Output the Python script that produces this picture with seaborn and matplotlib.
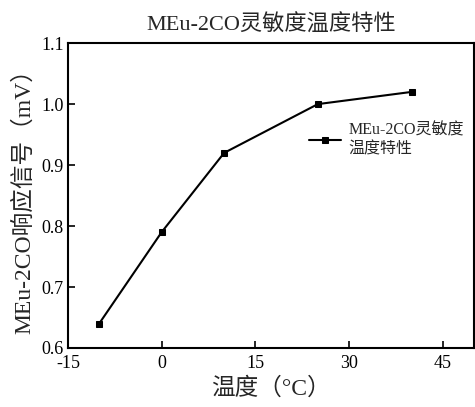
import matplotlib
matplotlib.use('Agg')
import pandas as pd
import matplotlib.pyplot as plt
import seaborn as sns

temperature = [-10, 0, 10, 25, 40]
response = [0.64, 0.79, 0.92, 1.00, 1.02]
series_name = 'MEu-2CO灵敏度\n温度特性'

sns.set_style('ticks')
plt.rcParams['font.family'] = ['Liberation Serif', 'Noto Sans CJK SC']
plt.rcParams['axes.unicode_minus'] = False

df = pd.DataFrame({'temp': temperature, 'resp': response})

fig = plt.figure(figsize=(4.75, 4.07), dpi=100)
ax = fig.add_axes([0.143, 0.145, 0.855, 0.749])

sns.lineplot(data=df, x='temp', y='resp', ax=ax, color='black', linewidth=1.5,
             marker='s', markersize=5, markeredgecolor='black', label=series_name)

ax.set_xlim(-15, 50)
ax.set_ylim(0.6, 1.1)
ax.set_xticks([-15, 0, 15, 30, 45])
ax.set_yticks([0.6, 0.7, 0.8, 0.9, 1.0, 1.1])
ax.set_yticklabels(['0.6', '0.7', '0.8', '0.9', '1.0', '1.1'])
ax.tick_params(direction='in', length=5, width=1.2, labelsize=13, colors='black')
ax.tick_params(axis='x', pad=5)
ax.tick_params(axis='y', pad=3)
for s in ax.spines.values():
    s.set_linewidth(1.5)
    s.set_color('black')

ax.set_title('MEu-2CO灵敏度温度特性', fontsize=16, pad=9)
ax.set_xlabel('温度（°C）', fontsize=17, labelpad=4)
ax.set_ylabel('MEu-2CO响应信号（mV）', fontsize=17, labelpad=4)

ax.legend(loc='upper left', bbox_to_anchor=(0.577, 0.76), frameon=False,
          fontsize=11.5, handlelength=2.0, handletextpad=0.5, borderaxespad=0)

fig.savefig('out.png', dpi=100)
